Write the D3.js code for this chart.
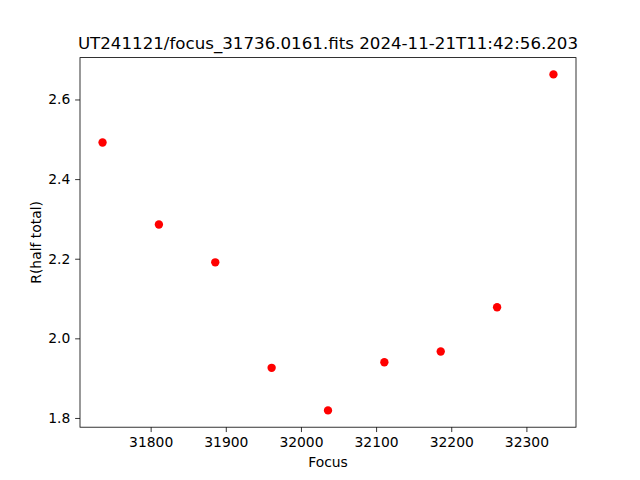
<!DOCTYPE html>
<html>
<head>
<meta charset="utf-8">
<script src="https://cdn.jsdelivr.net/npm/d3@7"></script>
<style>
  body { margin: 0; background: #fff; }
  text { font-family: "DejaVu Sans", sans-serif; fill: #000; }
</style>
</head>
<body>
<svg id="chart" width="640" height="480"></svg>
<script>
const titleText = "UT241121/focus_31736.0161.fits 2024-11-21T11:42:56.203";
const xLabel = "Focus";
const yLabel = "R(half total)";
const focusValues = [31736, 31811, 31886, 31961, 32036, 32111, 32186, 32261, 32336];
const rValues = [2.492, 2.286, 2.191, 1.926, 1.819, 1.940, 1.967, 2.078, 2.663];
const xTicks = [31800, 31900, 32000, 32100, 32200, 32300];
const yTicks = [1.8, 2.0, 2.2, 2.4, 2.6];

(function () {
const svg = d3.select("#chart");
const mLeft = 80, mRight = 576, mTop = 57.6, mBottom = 427.2;
const fs = "13.89px";

function padded(vals) {
  const [a, b] = d3.extent(vals);
  const m = (b - a) * 0.05;
  return [a - m, b + m];
}
const x = d3.scaleLinear().domain(padded(focusValues)).range([mLeft, mRight]);
const y = d3.scaleLinear().domain(padded(rValues)).range([mBottom, mTop]);

const xAxis = d3.axisBottom(x).tickValues(xTicks).tickFormat(d3.format("d")).tickSizeInner(4.86).tickSizeOuter(0).tickPadding(4.86);
const yAxis = d3.axisLeft(y).tickValues(yTicks).tickFormat(d3.format(".1f")).tickSizeInner(4.86).tickSizeOuter(0).tickPadding(4.86);

const gx = svg.append("g").attr("transform", `translate(0,${mBottom})`).call(xAxis);
const gy = svg.append("g").attr("transform", `translate(${mLeft},0)`).call(yAxis);
[gx, gy].forEach(g => {
  g.select(".domain").remove();
  g.selectAll(".tick line").attr("stroke", "#000").attr("stroke-width", 0.8);
  g.selectAll(".tick text").attr("font-size", fs).attr("font-family", "DejaVu Sans, sans-serif").attr("fill", "#000");
});

svg.append("g").selectAll("circle")
  .data(focusValues.map((f, i) => [f, rValues[i]]))
  .join("circle")
  .attr("cx", d => x(d[0]))
  .attr("cy", d => y(d[1]))
  .attr("r", 4.17)
  .attr("fill", "#ff0000");

svg.append("rect")
  .attr("x", mLeft).attr("y", mTop)
  .attr("width", mRight - mLeft).attr("height", mBottom - mTop)
  .attr("fill", "none").attr("stroke", "#000").attr("stroke-width", 0.8);

svg.append("text")
  .attr("x", (mLeft + mRight) / 2).attr("y", 49.3)
  .attr("text-anchor", "middle").attr("font-size", "16.67px")
  .text(titleText);

svg.append("text")
  .attr("x", (mLeft + mRight) / 2).attr("y", 466.7)
  .attr("text-anchor", "middle").attr("font-size", fs)
  .text(xLabel);

svg.append("text")
  .attr("transform", `translate(40.5,${(mTop + mBottom) / 2}) rotate(-90)`)
  .attr("text-anchor", "middle").attr("font-size", fs)
  .text(yLabel);
})();
</script>
</body>
</html>
